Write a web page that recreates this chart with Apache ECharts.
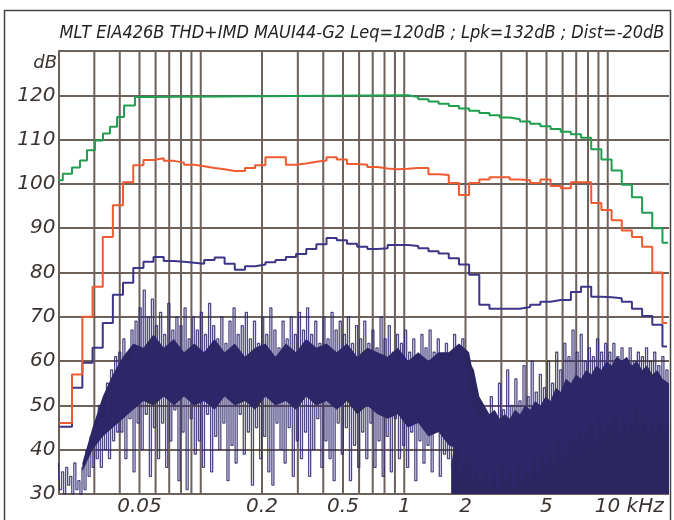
<!DOCTYPE html>
<html><head><meta charset="utf-8">
<script src="https://cdn.jsdelivr.net/npm/echarts@6/dist/echarts.min.js"></script>
<style>html,body{margin:0;padding:0;background:#fff}#c{width:674px;height:520px}</style>
</head><body><div id="c"></div>
<script>
const titleText = 'MLT EIA426B THD+IMD MAUI44-G2 Leq=120dB ; Lpk=132dB ; Dist=-20dB';
const yUnit = 'dB';
// vertical grid frequencies (kHz)
const xGridKHz = [0.03,0.04,0.05,0.06,0.07,0.08,0.09,0.1,0.2,0.3,0.4,0.5,0.6,0.7,0.8,0.9,1,2,3,4,5,6,7,8,9,10];
const xLabelKHz = [0.05,0.2,0.5,1,2,5,10];
const xLabelText = ['0.05','0.2','0.5','1','2','5','10 kHz'];
// 1/6-octave band edges (Hz) for red & purple curves
const bandEdgesHz = [20.2,23.3,26.2,29.4,33.0,37.0,41.5,46.6,52.3,58.6,65.8,73.8,82.8,92.9,104,117,131,147,165,185,208,233,262,294,330,370,415,466,523,587,659,739,829,931,1044,1172,1315,1475,1655,1857,2084,2338,2623,2943,3302,3705,4157,4665,5234,5873,6589,7393,8295,9308,10443,11718,13147,14752,16552,18572,19550];
const redLevels = [46,57,70,76.8,88,95.2,100.4,104.2,105.4,105.8,105.2,104.8,104.3,104,103.6,103.3,102.9,102.9,103.6,104.2,106,106,104.3,104.6,105,105.3,106,105.5,104.5,104.3,103.8,103.5,103.3,103.4,103.6,103.6,102.2,102,100.2,97.5,100.2,101,101.5,101.5,101,100.8,100.2,101,99.5,99,100.4,100.4,95.7,94.1,91.8,89.5,88,85.8,80,68.6];
const purpleLevels = [45.2,54,59.6,63,68.6,75,77.7,81,82.4,83.5,82.6,82.4,82.2,82,82.8,83.4,82,80.6,81.4,81.8,82.3,82.8,83.5,84.2,85.3,86.4,87.8,87.3,86.5,85.8,85.3,85.5,86.2,86.2,86,85.5,84.8,84.3,83.2,81.8,79.5,72.7,71.8,71.8,71.8,72.2,72.7,73.4,73.8,73.8,75.6,76.8,74.5,74.4,74.2,73.4,71.8,70.2,68.2,63.3];
// green (max level) curve
const greenEdgesHz = [20.0,21.0,23.3,25.5,27.6,30.2,33.1,35.8,38.8,42.0,47.5,53.2,1044,1172,1315,1475,1655,1857,2084,2338,2623,2943,3302,3705,4157,4665,5234,5873,6589,7393,8295,9308,10443,11718,13147,14752,16552,18572,19800];
const greenLevels = [100.8,102.3,103.7,105.3,107.6,109.8,111.4,112.9,115.1,117.7,119.6,120,119.6,119.1,118.6,118.1,117.6,117,116.5,116,115.5,115,114.6,114.1,113.6,113,112.4,111.8,111.2,110.4,107.8,105.5,103,99.8,97,93.5,90,86.7];
// noise/distortion spectrum, equally spaced in log frequency from 20 Hz to 20 kHz
const noiseLevels = [
37,31,35,30,36,32,34,30,37,31,
33,30,36,31,40,34,43,36,45,38,
50,36,47,40,55,38,58,42,61,44,
62,44,65,38,60,47,67,35,69,46,
72,40,76,48,70,34,74,45,68,38,
71,46,66,36,73,42,67,49,70,33,
68,44,72,31,65,47,70,39,67,42,
71,36,66,48,73,35,68,43,65,40,
70,46,64,33,69,41,72,37,66,48,
68,39,71,44,65,32,69,45,64,38,
70,43,66,35,72,32,67,46,63,40,
69,37,65,45,70,34,66,42,71,38,
67,44,72,34,66,40,69,47,64,36,
70,42,65,38,71,33,67,46,69,39,
66,45,70,33,64,41,68,36,65,44,
69,38,64,46,67,36,63,42,70,34,
65,43,68,35,62,47,66,38,64,41,
67,36,62,44,65,33,61,42,66,37,
63,41,67,35,62,44,65,34,60,39,
64,38,61,36,66,40,62,34,65,37,
58,38,52,34,49,36,47,33,50,35,
48,32,52,34,47,31,55,36,49,33,
58,35,50,32,56,37,51,33,59,36,
52,34,60,38,53,35,57,39,54,36,
60,40,55,37,62,42,58,38,64,41,
61,43,67,40,62,45,66,42,60,44,
63,46,61,42,65,47,62,44,64,46,
62,45,64,48,61,44,63,47,60,45,
63,46,60,49,62,45,61,47,63,44,
60,46,62,45,59,47,61,44,58,46];
// dense core of the spectrum (low / high edge, dB)
const coreHz = [26.2,29.4,33.0,37.0,41.5,46.6,52.3,58.6,65.8,73.8,82.8,92.9,104,117,131,147,165,185,208,233,262,294,330,370,415,466,523,587,659,739,829,931,1044,1172,1315,1475,1655,1857,2084,2200];
const coreLow = [35,40,43,45,47,49,51,50,52,50,52,50,51,49,52,50,51,49,52,50,51,49,52,50,51,49,51,48,50,48,47,48,45,46,43,44,41,40,42,48];
const coreHigh = [37,45,52,57,61,64,63,66,63,65,62,64,62,65,62,64,61,63,64,61,64,62,65,63,64,62,64,61,63,62,61,63,60,62,60,62,62,64,62,56];
// solid noise floor above ~1.7 kHz
const floorHz = [1700,1857,2000,2084,2200,2338,2480,2623,2780,2943,3120,3302,3500,3705,3930,4157,4400,4665,4950,5234,5550,5873,6220,6589,6980,7393,7830,8295,8800,9308,9860,10443,11060,11718,12400,13147,13930,14752,15630,16552,17530,18572,20000];
const floorLevels = [36,50,57,60,58,52,50,48,49,47,48,47,49,48,50,49,51,50,52,51,54,53,56,55,57,56,58,57,59,58,60,59,61,60,61,59,60,58,59,57,58,56,55];

const GRID = '#6d615a';
const FONT = 'DejaVu Sans';
const MASS = '#2b2562';

function stepData(edgesHz, levels){
  const n = Math.min(levels.length, edgesHz.length - 1);
  const d = [];
  for (let i = 0; i < n; i++) d.push([edgesHz[i] / 1000, levels[i]]);
  d.push([edgesHz[n] / 1000, levels[n - 1]]);
  return d;
}

function polySeries(name, upperHz, upper, lowerHz, lower){
  return {type: 'custom', name, xAxisIndex: 0, yAxisIndex: 0, z: 2, silent: true,
    data: [[upperHz[0] / 1000, upper[0]]],
    renderItem: (params, api) => {
      const pts = [];
      for (let i = 0; i < upperHz.length; i++) pts.push(api.coord([upperHz[i] / 1000, upper[i]]));
      for (let i = lowerHz.length - 1; i >= 0; i--) pts.push(api.coord([lowerHz[i] / 1000, lower[i]]));
      return {type: 'polygon', shape: {points: pts}, style: {fill: MASS, opacity: 1}};
    }};
}

const chart = echarts.init(document.getElementById('c'));
chart.setOption({
  animation: false,
  backgroundColor: '#fff',
  grid: {left: 58.5, right: 5, top: 51, bottom: 26},
  xAxis: [
    {type: 'log', logBase: 10, min: 0.02, max: 20, axisLine: {show: false}, axisTick: {show: false}, axisLabel: {show: false}, splitLine: {show: false}},
    {type: 'value', min: 0, max: noiseLevels.length - 1, show: false}
  ],
  yAxis: {
    type: 'value', min: 30, max: 130, interval: 10,
    axisLine: {show: true, lineStyle: {color: GRID, width: 2}},
    axisTick: {show: false},
    splitLine: {show: true, lineStyle: {color: GRID, width: 2}},
    axisLabel: {show: true, margin: 3, fontFamily: FONT, fontStyle: 'italic', fontSize: 20, color: '#3a3330',
      formatter: v => v >= 130 ? '' : String(v)}
  },
  graphic: [
    {type: 'rect', shape: {x: 4.5, y: 10.5, width: 666, height: 520}, style: {fill: 'none', stroke: '#444', lineWidth: 1.5}, z: 0},
    {type: 'text', x: 362, y: 33, style: {text: titleText, fontFamily: 'DejaVu Sans Condensed', fontStyle: 'italic', fontSize: 18, fill: '#222', align: 'center', verticalAlign: 'middle'}},
    {type: 'text', x: 57, y: 63, style: {text: yUnit, fontFamily: FONT, fontStyle: 'italic', fontSize: 18, fill: '#3a3330', align: 'right', verticalAlign: 'middle'}}
  ],
  series: [
    {type: 'custom', name: 'vgrid', xAxisIndex: 0, yAxisIndex: 0, z: 1, silent: true,
      data: xGridKHz.map(v => [v, 130]),
      renderItem: (params, api) => {
        const v = api.value(0);
        const a = api.coord([v, 30]), b = api.coord([v, 130]);
        return {type: 'line', shape: {x1: a[0], y1: a[1], x2: b[0], y2: b[1]}, style: {stroke: GRID, lineWidth: 2}};
      }},
    {type: 'custom', name: 'xlabels', xAxisIndex: 0, yAxisIndex: 0, z: 5, silent: true,
      data: xLabelKHz.map((v, i) => [v, 30, i]),
      renderItem: (params, api) => {
        const v = api.value(0);
        const i = api.value(2);
        const p = api.coord([v, 30]);
        const txt = xLabelText[i];
        const isUnit = txt.indexOf(' ') > 0;
        return {type: 'text', x: isUnit ? p[0] - 13 : p[0], y: p[1] + 3,
          style: {text: txt, fontFamily: FONT, fontStyle: 'italic', fontSize: 20, fill: '#3a3330', align: isUnit ? 'left' : 'center', verticalAlign: 'top'}};
      }},
    polySeries('core', coreHz, coreHigh, coreHz, coreLow),
    polySeries('floor', floorHz, floorLevels, [floorHz[0], floorHz[floorHz.length - 1]], [30, 30]),
    {type: 'line', name: 'noise', xAxisIndex: 1, z: 3, symbol: 'none', silent: true, step: 'middle',
      data: noiseLevels.map((v, i) => [i, v]),
      lineStyle: {color: '#30296f', width: 1.3, opacity: 0.85}},
    {type: 'line', name: 'purple', xAxisIndex: 0, z: 4, symbol: 'none', step: 'end',
      data: stepData(bandEdgesHz, purpleLevels), lineStyle: {color: '#3d3588', width: 2}},
    {type: 'line', name: 'red', xAxisIndex: 0, z: 4, symbol: 'none', step: 'end',
      data: stepData(bandEdgesHz, redLevels), lineStyle: {color: '#f05a30', width: 2}},
    {type: 'line', name: 'green', xAxisIndex: 0, z: 4, symbol: 'none', step: 'end',
      data: stepData(greenEdgesHz, greenLevels), lineStyle: {color: '#1f9e4e', width: 2}}
  ]
});
</script></body></html>
